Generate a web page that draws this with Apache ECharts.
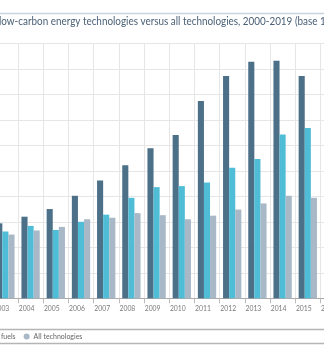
<!DOCTYPE html>
<html>
<head>
<meta charset="utf-8">
<script src="https://cdn.jsdelivr.net/npm/echarts@6/dist/echarts.min.js"></script>
<style>
  html, body { margin: 0; padding: 0; background: #ffffff; overflow: hidden; }
  body { width: 324px; height: 357px; position: relative; }
  #chart { position: absolute; left: -200px; top: 0; width: 600px; height: 357px; }
</style>
</head>
<body>
<div id="chart"></div>
<script>
// Patenting index (base 100 = 2000)
const years = ['2003', '2004', '2005', '2006', '2007', '2008', '2009', '2010',
               '2011', '2012', '2013', '2014', '2015', '2016'];
const lowCarbon = [147, 160, 175, 201, 231, 261, 294, 320, 387, 436, 464, 466, 436, null];
const fossilFuels = [131, 142, 134, 150, 164, 197, 218, 220, 227, 256, 273, 321, 334, null];
const allTech = [125, 133, 140, 155, 158, 167, 163, 155, 162, 174, 186, 201, 197, null];

const seriesNames = ['Low-carbon energy technologies', 'Fossil fuels', 'All technologies'];
const seriesColors = ['#4d7089', '#4fbdd5', '#a8b8c7'];
const yTicks = { min: 0, max: 500, interval: 50 };

const titleText = 'Patenting in low-carbon energy technologies versus all technologies, 2000-2019 (base 100 = 2000)';

const chart = echarts.init(document.getElementById('chart'), null, { renderer: 'canvas' });

const seriesData = [lowCarbon, fossilFuels, allTech];

chart.setOption({
  animation: false,
  backgroundColor: '#ffffff',
  textStyle: { fontFamily: 'Lato' },
  graphic: [
    { type: 'line', shape: { x1: 0, y1: 13.5, x2: 600, y2: 13.5 },
      style: { stroke: '#c9d3dd', lineWidth: 1.3 } },
    { type: 'text', x: 200 - 55.6, y: 15, scaleX: 0.86,
      style: { text: titleText, fontSize: 11.5, fontFamily: 'Lato', fill: '#4a6076' } },
    { type: 'line', shape: { x1: 0, y1: 329.5, x2: 600, y2: 329.5 },
      style: { stroke: '#b5b5b5', lineWidth: 1.5 } },
    { type: 'line', shape: { x1: 0, y1: 343.5, x2: 600, y2: 343.5 },
      style: { stroke: '#b5b5b5', lineWidth: 1.5 } }
  ],
  legend: {
    data: seriesNames,
    left: 54,
    top: 333,
    icon: 'circle',
    itemWidth: 6,
    itemHeight: 6,
    itemGap: 8,
    padding: 0,
    textStyle: { fontSize: 7, color: '#666666', fontFamily: 'Lato', padding: [0, 0, 0, -1] }
  },
  grid: { left: 192.8, right: 54.4, top: 43.3, bottom: 58.7, containLabel: false },
  xAxis: {
    type: 'category',
    data: years,
    boundaryGap: true,
    axisLine: { lineStyle: { color: '#aaaaaa', width: 1 } },
    axisTick: { show: true, interval: 0, length: 5, lineStyle: { color: '#bbbbbb' } },
    splitLine: { show: true, interval: 0, lineStyle: { color: '#e6e6e6', width: 1 } },
    axisLabel: { interval: 0, fontSize: 6.8, color: '#7a7a7a', margin: 7,
                 fontFamily: 'Lato', padding: [0, 8, 0, 0] }
  },
  yAxis: {
    type: 'value',
    min: yTicks.min,
    max: yTicks.max,
    interval: yTicks.interval,
    axisLine: { show: false },
    axisTick: { show: false },
    axisLabel: { fontSize: 7, color: '#7a7a7a' },
    splitLine: { show: true, lineStyle: { color: '#e6e6e6', width: 1 } }
  },
  series: seriesNames.map((name, i) => ({
    name: name,
    type: 'bar',
    data: seriesData[i],
    barWidth: 6.1,
    barGap: '0%',
    itemStyle: { color: seriesColors[i] }
  }))
});
</script>
</body>
</html>
